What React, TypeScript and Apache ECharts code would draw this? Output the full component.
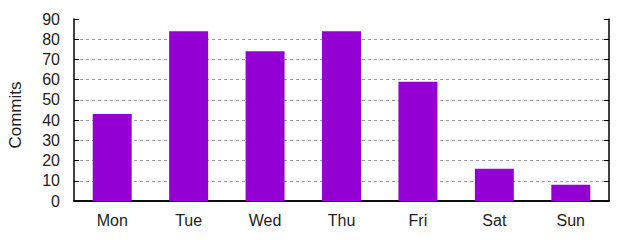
import React, { useEffect, useRef } from "react";
import * as echarts from "echarts";

const categories = ["Mon", "Tue", "Wed", "Thu", "Fri", "Sat", "Sun"];
const commits = [43, 84, 74, 84, 59, 16, 8];
const yTicks = { min: 0, max: 90, interval: 10 };
const yTitle = "Commits";

export default function App() {
  const ref = useRef<HTMLDivElement>(null);
  useEffect(() => {
    if (!ref.current) return;
    const chart = echarts.init(ref.current, undefined, { renderer: "svg" });
    const font = "'Liberation Sans', Arial, sans-serif";
    chart.setOption({
      animation: false,
      grid: { left: 74, right: 31, top: 19, bottom: 39, outerBoundsMode: "none", containLabel: false },
      graphic: [
        {
          type: "text",
          x: 15,
          y: 115,
          rotation: Math.PI / 2,
          style: {
            text: yTitle,
            fill: "#222",
            fontSize: 17,
            fontFamily: font,
            align: "center",
            verticalAlign: "middle",
          },
        },
      ],
      xAxis: [
        {
          type: "category",
          data: categories,
          position: "bottom",
          axisLine: { lineStyle: { color: "#000", width: 1.5 } },
          axisTick: { inside: true, alignWithLabel: true, length: 5, lineStyle: { color: "#000" } },
          axisLabel: { color: "#222", fontSize: 16, fontFamily: font, margin: 11 },
          splitLine: { show: false },
        },
        {
          type: "category",
          data: categories,
          position: "top",
          axisLine: { lineStyle: { color: "#000", width: 1.5 } },
          axisTick: { inside: true, alignWithLabel: true, length: 5, lineStyle: { color: "#000" } },
          axisLabel: { show: false },
          splitLine: { show: false },
        },
      ],
      yAxis: [
        {
          type: "value",
          ...yTicks,
          position: "left",
          axisLine: { show: true, lineStyle: { color: "#000", width: 1.5 } },
          axisTick: { show: true, inside: true, length: 5, lineStyle: { color: "#000" } },
          axisLabel: { color: "#222", fontSize: 16, fontFamily: font, margin: 14 },
          splitLine: {
            show: true,
            showMinLine: false,
            showMaxLine: false,
            lineStyle: { color: "#a0a0a0", type: [3, 3], width: 1 },
          },
        },
        {
          type: "value",
          ...yTicks,
          position: "right",
          axisLine: { show: true, lineStyle: { color: "#000", width: 1.5 } },
          axisTick: { show: true, inside: true, length: 5, lineStyle: { color: "#000" } },
          axisLabel: { show: false },
          splitLine: { show: false },
        },
      ],
      series: [
        {
          type: "bar",
          data: commits,
          xAxisIndex: 0,
          yAxisIndex: 0,
          barWidth: "51%",
          itemStyle: { color: "#9400D3" },
        },
      ],
    });
    return () => chart.dispose();
  }, []);
  return (
    <div
      ref={ref}
      style={{ position: "absolute", left: 0, top: 0, width: 640, height: 240, background: "#fff" }}
    />
  );
}
